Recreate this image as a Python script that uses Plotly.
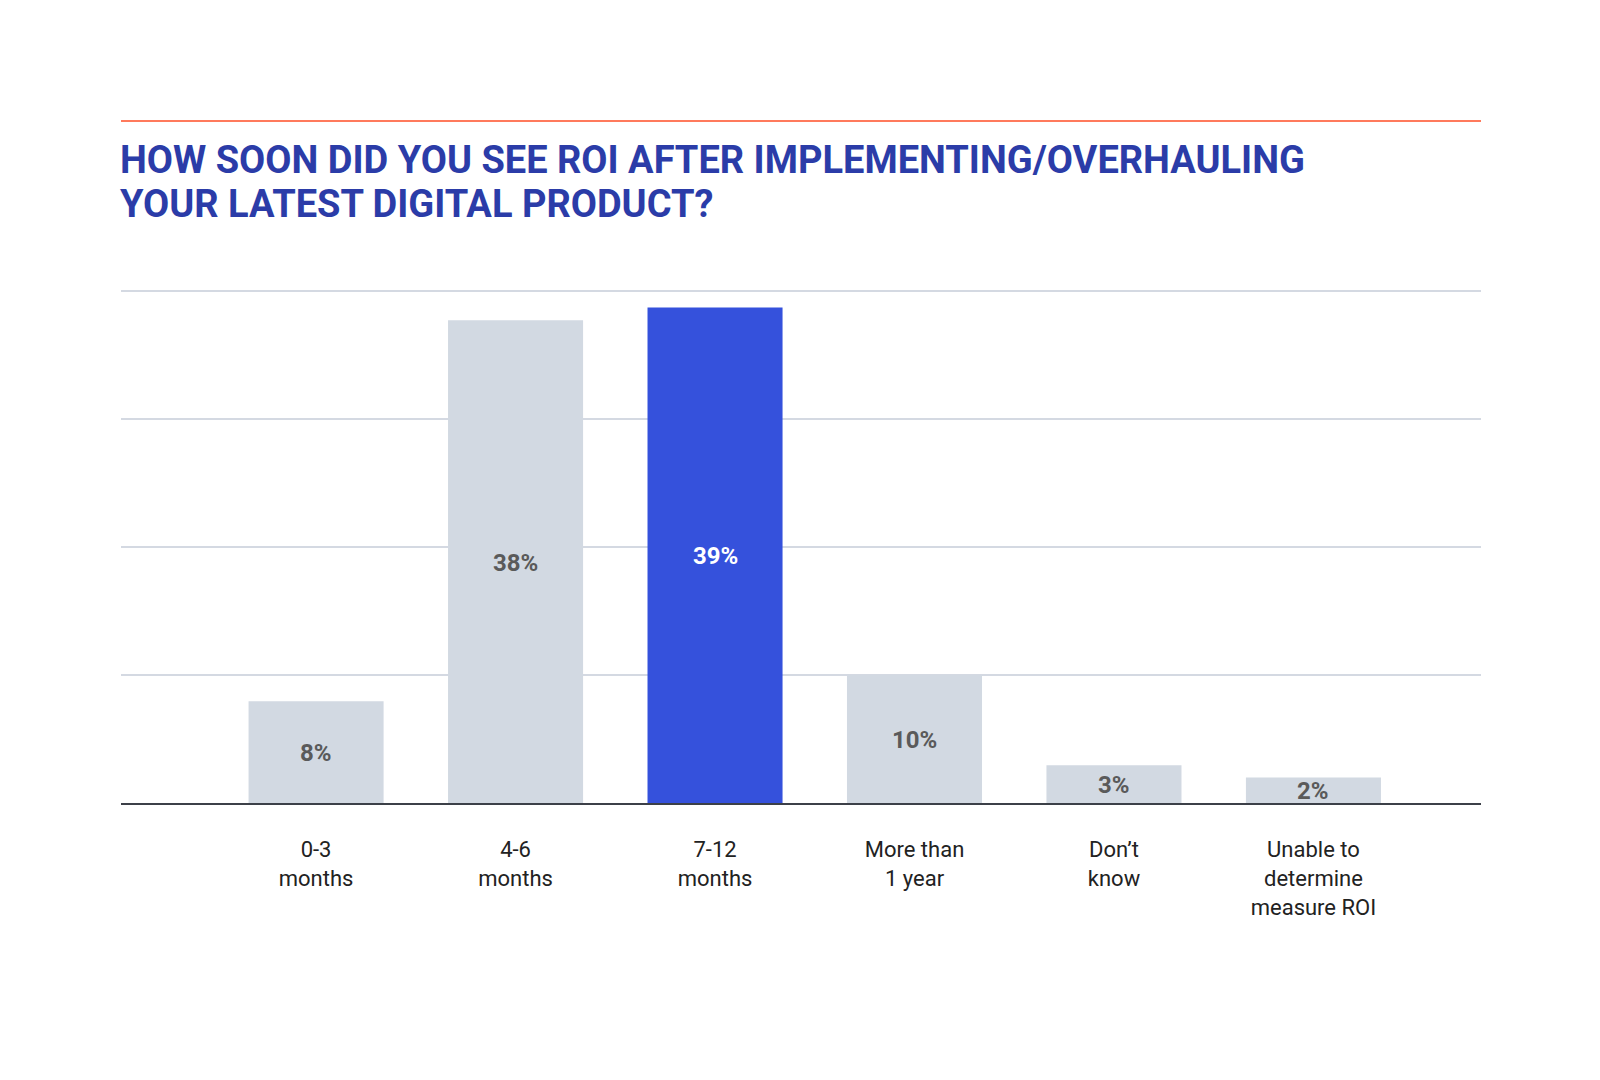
import plotly.graph_objects as go

# Data (bar heights as drawn; labels are rounded)
categories = ["0-3<br>months", "4-6<br>months", "7-12<br>months",
              "More than<br>1 year", "Don’t<br>know", "Unable to<br>determine<br>measure ROI"]
values = [7.95, 37.7, 38.7, 10, 2.95, 2]
highlight = "7-12<br>months"
title_lines = ["HOW SOON DID YOU SEE ROI AFTER IMPLEMENTING/OVERHAULING",
               "YOUR LATEST DIGITAL PRODUCT?"]

BLUE = "#3551dc"
GRAY = "#d2d9e2"
TITLE_BLUE = "#2b3ca8"
FONT = "Roboto"

bar_colors = [BLUE if c == highlight else GRAY for c in categories]

fig = go.Figure()
fig.add_trace(go.Bar(
    x=categories, y=values, width=0.677,
    marker=dict(color=bar_colors, line=dict(width=0)),
    hoverinfo="skip",
))

# value labels centred in each bar
for c, v in zip(categories, values):
    fig.add_annotation(x=c, y=v / 2, text=f"{v:.0f}%", showarrow=False, yshift=-1,
                       font=dict(family=FONT, size=24, weight="bold",
                                 color="#ffffff" if c == highlight else "#5a5a5a"))

# title lines and accent rule above the chart
fig.add_annotation(text=title_lines[0], xref="paper", yref="paper", x=0, y=1.2461,
                   xanchor="left", yanchor="middle", showarrow=False, xshift=-3,
                   font=dict(family=FONT, size=38, color=TITLE_BLUE, weight="bold"))
fig.add_annotation(text=title_lines[1], xref="paper", yref="paper", x=0, y=1.1609,
                   xanchor="left", yanchor="middle", showarrow=False, xshift=-3,
                   font=dict(family=FONT, size=38, color=TITLE_BLUE, weight="bold"))
fig.add_shape(type="line", xref="paper", yref="paper", x0=0, x1=1, y0=1.3217, y1=1.3217,
              line=dict(color="#ff7a5c", width=2))

fig.update_layout(
    width=1600, height=1080,
    margin=dict(l=113, r=127, t=279, b=285),
    paper_bgcolor="white", plot_bgcolor="white",
    showlegend=False,
    font=dict(family=FONT, size=22, color="#222222"),
    xaxis=dict(type="category", range=[-0.978, 5.84], showgrid=False,
               showline=True, linecolor="#3c4048", linewidth=2,
               ticks="", ticklabelstandoff=26,
               tickfont=dict(family=FONT, size=22, color="#222222")),
    yaxis=dict(range=[0, 40.3], tickvals=[10, 20, 30, 40], showgrid=True,
               gridcolor="#d4d9e2", gridwidth=2,
               zeroline=False, showticklabels=False, showline=False),
)

fig.write_html("out.html")
